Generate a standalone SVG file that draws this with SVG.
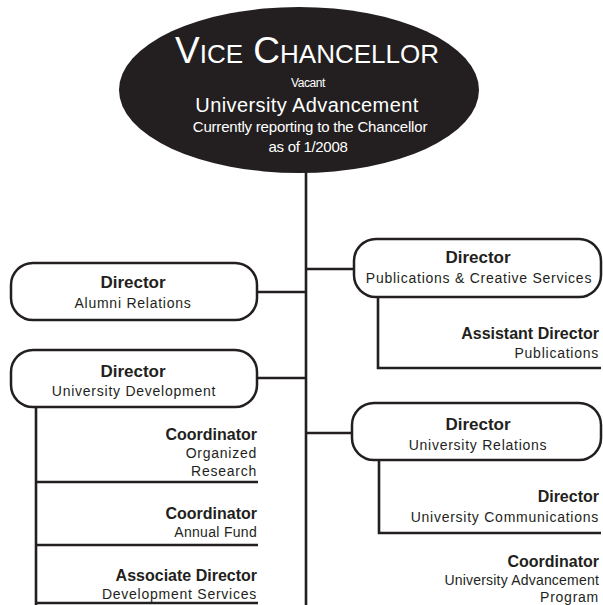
<svg xmlns="http://www.w3.org/2000/svg" width="603" height="605" viewBox="0 0 603 605">
<style>
text{font-family:"Liberation Sans",Arial,sans-serif;fill:#231f20}
.w{fill:#ffffff}
.b{font-weight:bold;font-size:16px}
.s{font-size:14px;letter-spacing:0.75px}
.box{fill:#ffffff;stroke:#231f20;stroke-width:2.5}
.ln{stroke:#231f20;stroke-width:2.6;fill:none}
</style>
<rect width="603" height="605" fill="#ffffff"/>
<g id="connectors">
<line class="ln" x1="306" y1="170" x2="306" y2="605"/>
<line class="ln" x1="306" y1="269" x2="354" y2="269"/>
<line class="ln" x1="257" y1="292" x2="306" y2="292"/>
<line class="ln" x1="257" y1="378" x2="306" y2="378"/>
<line class="ln" x1="306" y1="433" x2="352" y2="433"/>
<polyline class="ln" points="378,297 378,368 601,368"/>
<polyline class="ln" points="379,460 379,533 601,533"/>
<line class="ln" x1="36" y1="407" x2="36" y2="605"/>
<line class="ln" x1="36" y1="482" x2="258" y2="482"/>
<line class="ln" x1="36" y1="545" x2="258" y2="545"/>
<line class="ln" x1="36" y1="603" x2="258" y2="603"/>
</g>
<g id="vice-chancellor">
<ellipse cx="299" cy="90" rx="180" ry="83" fill="#231f20"/>
<text class="w" x="307" y="63" text-anchor="middle"><tspan font-size="37">V</tspan><tspan font-size="26">ICE</tspan><tspan font-size="37"> C</tspan><tspan font-size="26">HANCELLOR</tspan></text>
<text class="w" x="308" y="87" text-anchor="middle" font-size="12" letter-spacing="-0.4">Vacant</text>
<text class="w" x="307" y="112" text-anchor="middle" font-size="20" letter-spacing="0.4">University Advancement</text>
<text class="w" x="310" y="132" text-anchor="middle" font-size="15" letter-spacing="-0.2">Currently reporting to the Chancellor</text>
<text class="w" x="308" y="152" text-anchor="middle" font-size="15" letter-spacing="-0.3">as of 1/2008</text>
</g>
<g id="alumni-relations">
<rect class="box" x="11" y="263" width="246" height="57" rx="22"/>
<text class="b" x="133" y="288" text-anchor="middle" style="font-size:17px">Director</text>
<text class="s" x="133" y="308" text-anchor="middle">Alumni Relations</text>
</g>
<g id="university-development">
<rect class="box" x="11" y="350" width="246" height="57" rx="22"/>
<text class="b" x="133" y="377" text-anchor="middle" style="font-size:17px">Director</text>
<text class="s" x="134" y="396" text-anchor="middle">University Development</text>
</g>
<g id="organized-research">
<text class="b" x="257" y="440" text-anchor="end">Coordinator</text>
<text class="s" x="257" y="458" text-anchor="end">Organized</text>
<text class="s" x="257" y="476" text-anchor="end">Research</text>
</g>
<g id="annual-fund">
<text class="b" x="257" y="519" text-anchor="end">Coordinator</text>
<text class="s" x="257" y="537" text-anchor="end" style="letter-spacing:0.3px">Annual Fund</text>
</g>
<g id="development-services">
<text class="b" x="257" y="581" text-anchor="end">Associate Director</text>
<text class="s" x="257" y="599" text-anchor="end">Development Services</text>
</g>
<g id="publications-creative">
<rect class="box" x="354" y="239" width="247" height="58" rx="22"/>
<text class="b" x="478" y="263" text-anchor="middle" style="font-size:17px">Director</text>
<text class="s" x="479" y="283" text-anchor="middle">Publications &amp; Creative Services</text>
</g>
<g id="assistant-director-publications">
<text class="b" x="599" y="339" text-anchor="end">Assistant Director</text>
<text class="s" x="599" y="358" text-anchor="end">Publications</text>
</g>
<g id="university-relations">
<rect class="box" x="352" y="403" width="249" height="57" rx="22"/>
<text class="b" x="478" y="430" text-anchor="middle" style="font-size:17px">Director</text>
<text class="s" x="478" y="450" text-anchor="middle">University Relations</text>
</g>
<g id="university-communications">
<text class="b" x="599" y="502" text-anchor="end">Director</text>
<text class="s" x="599" y="522" text-anchor="end">University Communications</text>
</g>
<g id="advancement-program">
<text class="b" x="599" y="567" text-anchor="end">Coordinator</text>
<text class="s" x="599" y="585" text-anchor="end" style="letter-spacing:0.2px">University Advancement</text>
<text class="s" x="599" y="602" text-anchor="end">Program</text>
</g>
</svg>
